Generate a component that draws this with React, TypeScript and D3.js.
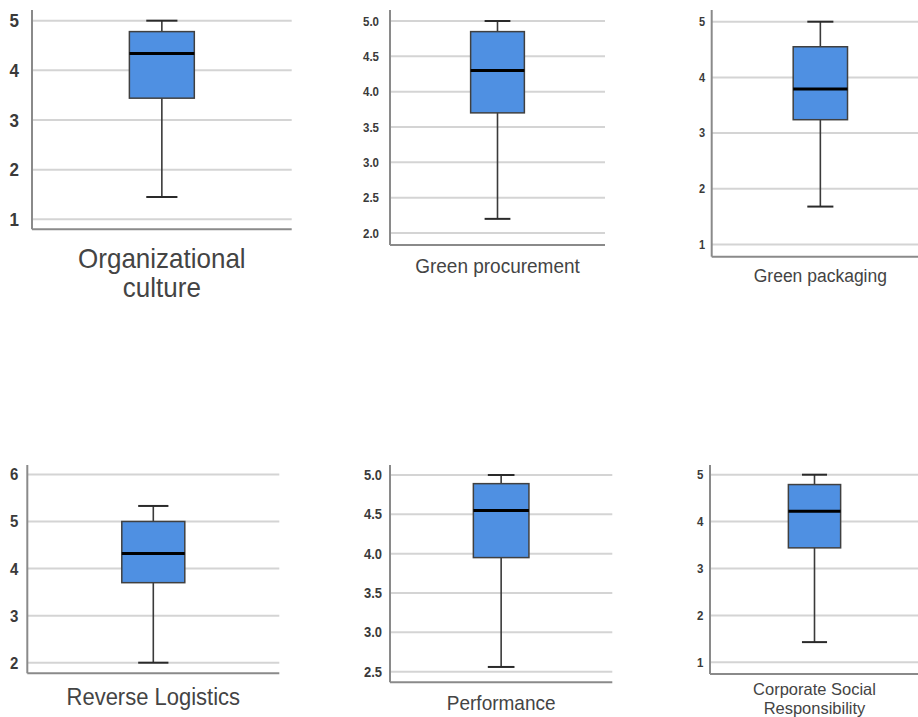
import React from "react";
import * as d3 from "d3";

// box plot statistics
const names = [
    "Organizational culture",
    "Green procurement",
    "Green packaging",
    "Reverse Logistics",
    "Performance",
    "Corporate Social Responsibility"
];
const labelLines = [
    ["Organizational", "culture"],
    ["Green procurement"],
    ["Green packaging"],
    ["Reverse Logistics"],
    ["Performance"],
    ["Corporate Social", "Responsibility"]
];
const mins = [1.45, 2.2, 1.68, 2.0, 2.56, 1.43];
const q1s = [3.44, 3.7, 3.24, 3.7, 3.95, 3.44];
const medians = [4.34, 4.3, 3.79, 4.32, 4.55, 4.22];
const q3s = [4.78, 4.85, 4.55, 5.0, 4.89, 4.79];
const maxes = [5.0, 5.0, 5.0, 5.33, 5.0, 5.0];

const yTicks = [
    [1, 2, 3, 4, 5],
    [2, 2.5, 3, 3.5, 4, 4.5, 5],
    [1, 2, 3, 4, 5],
    [2, 3, 4, 5, 6],
    [2.5, 3, 3.5, 4, 4.5, 5],
    [1, 2, 3, 4, 5]
];
const tickDecimals = [0, 1, 0, 0, 1, 0];
const yDomains = [
    [0.8, 5.215],
    [1.83, 5.156],
    [0.78, 5.21],
    [1.775, 6.2],
    [2.365, 5.127],
    [0.75, 5.207]
];

// where each small chart sits on the page (pixels)
const panels = [
    { x0: 32, x1: 291.7, y0: 10, y1: 229.3, tick: 17, gap: 13, label: 26, labelY: 267.5, lineGap: 29.5 },
    { x0: 390, x1: 605, y0: 10, y1: 245, tick: 11.5, gap: 11, label: 19, labelY: 273, lineGap: 0 },
    { x0: 711.7, x1: 929, y0: 10, y1: 256.7, tick: 11, gap: 6.5, label: 17.5, labelY: 282, lineGap: 0 },
    { x0: 27.3, x1: 279.3, y0: 465, y1: 673.3, tick: 15, gap: 9, label: 22, labelY: 705, lineGap: 0 },
    { x0: 390, x1: 612.3, y0: 465, y1: 682.3, tick: 13, gap: 8, label: 19, labelY: 710, lineGap: 0 },
    { x0: 710, x1: 919, y0: 465, y1: 674, tick: 11.5, gap: 6.5, label: 16.5, labelY: 694.5, lineGap: 19 }
];

const FONT = "'Liberation Sans', Arial, sans-serif";
const STRETCH = 1.1; // tick text in the picture is slightly taller than wide
const LABEL_STRETCH = 1.05;

const BoxPanel = ({ i }: { i: number }) => {
    const p = panels[i];
    const y = d3.scaleLinear().domain(yDomains[i]).range([p.y1, p.y0]);
    const x = d3
        .scaleBand<string>()
        .domain([names[i]])
        .range([p.x0, p.x1])
        .paddingInner(0)
        .paddingOuter(1.5);
    const bw = x.bandwidth();
    const left = x(names[i]) as number;
    const cx = left + bw / 2;
    const capHalf = bw * 0.24;
    const fmt = d3.format(`.${tickDecimals[i]}f`);

    return (
        <g>
            {yTicks[i].map(t => (
                <line
                    key={"g" + t}
                    x1={p.x0}
                    x2={p.x1}
                    y1={y(t)}
                    y2={y(t)}
                    stroke="#d4d4d4"
                    strokeWidth={2}
                />
            ))}
            {yTicks[i].map(t => (
                <text
                    key={"t" + t}
                    transform={`translate(${p.x0 - p.gap},${y(t)}) scale(1,${STRETCH})`}
                    dy="0.36em"
                    textAnchor="end"
                    fontFamily={FONT}
                    fontSize={p.tick}
                    fontWeight="bold"
                    fill="#3a3a3a"
                >
                    {fmt(t)}
                </text>
            ))}
            {/* whisker */}
            <line x1={cx} x2={cx} y1={y(maxes[i])} y2={y(mins[i])} stroke="#3a3a3a" strokeWidth={1.6} />
            <line x1={cx - capHalf} x2={cx + capHalf} y1={y(maxes[i])} y2={y(maxes[i])} stroke="#2a2a2a" strokeWidth={2} />
            <line x1={cx - capHalf} x2={cx + capHalf} y1={y(mins[i])} y2={y(mins[i])} stroke="#2a2a2a" strokeWidth={2} />
            {/* box */}
            <rect
                x={left}
                y={y(q3s[i])}
                width={bw}
                height={y(q1s[i]) - y(q3s[i])}
                fill="#4f90e2"
                stroke="#404040"
                strokeWidth={1.5}
            />
            <line x1={left} x2={left + bw} y1={y(medians[i])} y2={y(medians[i])} stroke="#000" strokeWidth={3} />
            {/* axes */}
            <line x1={p.x0} x2={p.x0} y1={p.y0} y2={p.y1} stroke="#8a8a8a" strokeWidth={2} />
            <line x1={p.x0} x2={p.x1} y1={p.y1} y2={p.y1} stroke="#8a8a8a" strokeWidth={2} />
            {labelLines[i].map((s, k) => (
                <text
                    key={s}
                    transform={`translate(${cx},${p.labelY + k * p.lineGap}) scale(1,${LABEL_STRETCH})`}
                    textAnchor="middle"
                    fontFamily={FONT}
                    fontSize={p.label}
                    fill="#444"
                >
                    {s}
                </text>
            ))}
        </g>
    );
};

const App = () => (
    <svg
        width={918}
        height={717}
        style={{ position: "absolute", left: 0, top: 0, background: "#fff" }}
    >
        {names.map((n, i) => (
            <BoxPanel key={n} i={i} />
        ))}
    </svg>
);

export default App;
